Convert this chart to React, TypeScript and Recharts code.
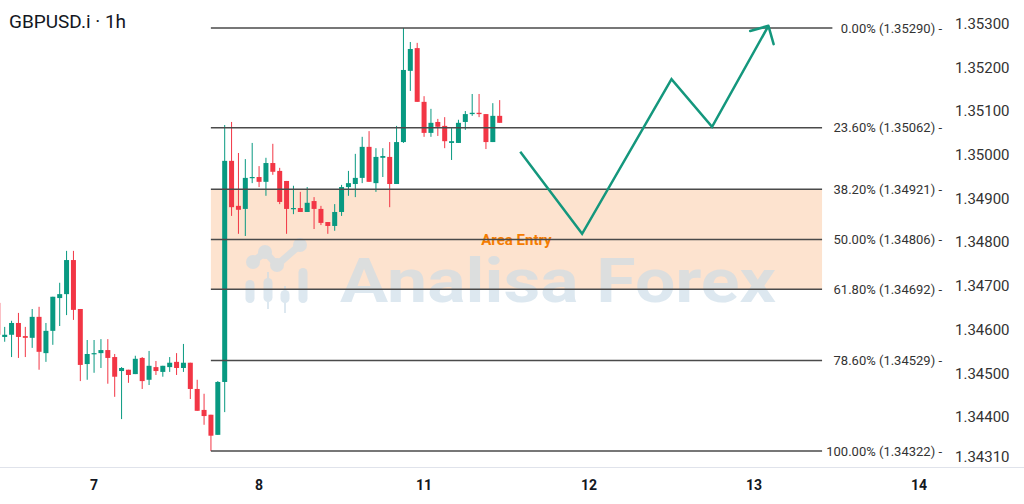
import React from 'react';
import { ComposedChart, Bar, Line, XAxis, YAxis, ReferenceLine, ReferenceArea, Customized } from 'recharts';

// ---------- data ----------
const HOURS = [-14,-13,-12,-11,-10,-9,-8,-7,-6,-5,-4,-3,-2,-1,0,1,2,3,4,5,6,7,8,9,10,11,12,13,14,15,16,17,18,19,20,21,22,23,24,25,26,27,28,29,30,31,32,33,34,35,36,37,38,39,40,41,42,43,44,45,46,47,48,49,50,51,52,53,54,55,56,57,58,59];
const OPEN = [1.34661,1.34583,1.34588,1.34615,1.34585,1.34581,1.34629,1.34546,1.34597,1.34672,1.34681,1.34759,1.34647,1.34521,1.34544,1.34546,1.34553,1.34537,1.34505,1.34508,1.34498,1.34535,1.34485,1.34514,1.34503,1.34514,1.34526,1.34512,1.34524,1.34464,1.34416,1.34405,1.34359,1.34480,1.34986,1.34883,1.34876,1.34947,1.34949,1.34938,1.34981,1.34963,1.34940,1.34876,1.34878,1.34869,1.34894,1.34876,1.34846,1.34837,1.34869,1.34926,1.34933,1.34947,1.35018,1.34935,1.34993,1.34995,1.34933,1.35029,1.35192,1.35244,1.35121,1.35050,1.35075,1.35066,1.35027,1.35027,1.35075,1.35093,1.35096,1.35093,1.35029,1.35089];
const HIGH = [1.34668,1.34606,1.34620,1.34638,1.34606,1.34647,1.34652,1.34615,1.34675,1.34707,1.34780,1.34780,1.34647,1.34576,1.34576,1.34578,1.34578,1.34544,1.34514,1.34508,1.34540,1.34537,1.34551,1.34528,1.34517,1.34537,1.34546,1.34567,1.34524,1.34485,1.34453,1.34405,1.34482,1.35068,1.35075,1.35004,1.34990,1.35027,1.34974,1.34993,1.35025,1.34970,1.34940,1.34929,1.34915,1.34926,1.34903,1.34883,1.34846,1.34887,1.34931,1.34963,1.35002,1.35041,1.35054,1.35015,1.35015,1.35029,1.35066,1.35290,1.35258,1.35256,1.35134,1.35105,1.35082,1.35086,1.35061,1.35080,1.35100,1.35139,1.35139,1.35093,1.35118,1.35125];
const LOW = [1.34576,1.34572,1.34537,1.34535,1.34537,1.34558,1.34508,1.34526,1.34565,1.34608,1.34633,1.34622,1.34482,1.34485,1.34501,1.34512,1.34476,1.34446,1.34395,1.34478,1.34498,1.34464,1.34473,1.34496,1.34492,1.34503,1.34496,1.34503,1.34441,1.34414,1.34382,1.34322,1.34359,1.34411,1.34860,1.34819,1.34814,1.34935,1.34926,1.34906,1.34954,1.34887,1.34819,1.34864,1.34869,1.34869,1.34830,1.34839,1.34819,1.34826,1.34860,1.34906,1.34903,1.34935,1.34938,1.34915,1.34949,1.34880,1.34933,1.35027,1.35146,1.35121,1.35041,1.35041,1.35043,1.35015,1.34988,1.35027,1.35057,1.35089,1.35086,1.35013,1.35029,1.35073];
const CLOSE = [1.34588,1.34588,1.34615,1.34583,1.34581,1.34629,1.34549,1.34597,1.34675,1.34681,1.34759,1.34645,1.34519,1.34544,1.34546,1.34553,1.34535,1.34492,1.34512,1.34496,1.34533,1.34482,1.34517,1.34505,1.34517,1.34524,1.34512,1.34524,1.34464,1.34414,1.34402,1.34357,1.34480,1.34986,1.34880,1.34874,1.34947,1.34949,1.34938,1.34981,1.34961,1.34892,1.34876,1.34878,1.34869,1.34890,1.34876,1.34844,1.34837,1.34869,1.34926,1.34935,1.34947,1.35018,1.34938,1.34995,1.34997,1.34933,1.35029,1.35194,1.35242,1.35121,1.35050,1.35073,1.35064,1.35031,1.35031,1.35073,1.35093,1.35096,1.35093,1.35029,1.35089,1.35073];

// projected path (hour, price)
const PROJ_H = [62, 71, 84, 89.9, 98.1];
const PROJ_P = [1.35007, 1.34819, 1.35173, 1.35064, 1.35295];

// fibonacci levels
const FIB_PCT = ['0.00%', '23.60%', '38.20%', '50.00%', '61.80%', '78.60%', '100.00%'];
const FIB_PRICE = [1.35290, 1.35062, 1.34921, 1.34806, 1.34692, 1.34529, 1.34322];
const FIB_START_H = 17;
const FIB_END_H = [107.4, 105.9, 105.9, 105.9, 105.9, 105.9, 105.9];
const ZONE = [1.34692, 1.34921];

// axes
const X_TICKS = [0, 24, 48, 72, 96, 120];
const X_LABELS = ['7', '8', '11', '12', '13', '14'];
const Y_TICKS = [1.3431, 1.344, 1.345, 1.346, 1.347, 1.348, 1.349, 1.35, 1.351, 1.352, 1.353];
const X_DOMAIN = [-13.673, 123.636];
const Y_DOMAIN = [1.342854, 1.353541];

const TITLE = 'GBPUSD.i · 1h';
const WATERMARK = 'Analisa Forex';
const ZONE_LABEL = 'Area Entry';

// ---------- layout ----------
const W = 1024;
const H = 504;
const Y_AXIS_W = 80;
const X_AXIS_H = 37;
const PLOT_RIGHT = W - Y_AXIS_W;
const PLOT_BOTTOM = H - X_AXIS_H;
const FONT = 'Roboto, "Noto Sans", sans-serif';
const UP = '#089981';
const DOWN = '#f23645';
const PATH_COLOR = '#14977d';
const FIB_COLOR = '#4a4a4a';
const WM = '#c9dbe8';

const rows = HOURS.map((h, i) => ({ h, open: OPEN[i], high: HIGH[i], low: LOW[i], close: CLOSE[i] }));
const projRows = PROJ_H.map((h, i) => ({ h, p: PROJ_P[i] }));

const Candle = (props: any) => {
  const { x, y, width, height, payload } = props;
  if (!payload || payload.high == null) return null;
  const top = Math.min(y, y + height);
  const hgt = Math.abs(height);
  const range = payload.high - payload.low || 1;
  const k = hgt / range;
  const yo = top + (payload.high - payload.open) * k;
  const yc = top + (payload.high - payload.close) * k;
  const up = payload.close >= payload.open;
  const color = up ? UP : DOWN;
  const cx = x + width / 2;
  const bTop = Math.min(yo, yc);
  const bH = Math.max(1.2, Math.abs(yo - yc));
  return (
    <g>
      <line x1={cx} x2={cx} y1={top} y2={top + hgt} stroke={color} strokeWidth={1} />
      <rect x={x} y={bTop} width={width} height={bH} fill={color} />
    </g>
  );
};

let prevPt: any = null;
const ArrowDot = (props: any) => {
  const { cx, cy, index, points } = props;
  let prev = points && points[index - 1] ? { x: points[index - 1].x, y: points[index - 1].y } : prevPt;
  prevPt = { x: cx, y: cy };
  if (index !== PROJ_H.length - 1 || !prev) return <g key={`ad${index}`} />;
  const ang = Math.atan2(cy - prev.y, cx - prev.x);
  const L = 19;
  const a = Math.PI / 4;
  const p1 = [cx - L * Math.cos(ang - a), cy - L * Math.sin(ang - a)];
  const p2 = [cx - L * Math.cos(ang + a), cy - L * Math.sin(ang + a)];
  return (
    <path
      key={`ad${index}`}
      d={`M${p1[0]},${p1[1]} L${cx},${cy} L${p2[0]},${p2[1]}`}
      fill="none"
      stroke={PATH_COLOR}
      strokeWidth={2.5}
      strokeLinecap="round"
      strokeLinejoin="round"
    />
  );
};

const fibLabel = (text: string) => (props: any) => {
  const vb = props.viewBox || {};
  return (
    <text x={PLOT_RIGHT - 2} y={vb.y} dy="0.35em" textAnchor="end" fontSize={13} fill="#333" fontFamily={FONT}>
      {text}
    </text>
  );
};

const Watermark = () => (
  <g opacity={0.62} fill={WM} pointerEvents="none">
    <g>
      <rect x={245.5} y={280} width={9} height={23} rx={4.5} />
      <line x1={268} x2={268} y1={272} y2={309} stroke={WM} strokeWidth={2} />
      <rect x={263.5} y={278} width={9} height={24} rx={4.5} />
      <line x1={285} x2={285} y1={286} y2={313} stroke={WM} strokeWidth={2} />
      <rect x={280.5} y={290} width={9} height={13} rx={4.5} />
      <rect x={298.5} y={268} width={9} height={35} rx={4.5} />
      <polyline points="253,262 265,252 277,265 300,245" fill="none" stroke={WM} strokeWidth={7} strokeLinejoin="round" />
      <circle cx={253} cy={262} r={7} />
      <circle cx={265} cy={252} r={7} />
      <circle cx={277} cy={265} r={7} />
      <circle cx={300} cy={245} r={7} />
    </g>
    <text
      x={340}
      y={302}
      fontSize={62}
      fontWeight={700}
      fontFamily={FONT}
      textLength={436}
      lengthAdjust="spacingAndGlyphs"
    >
      {WATERMARK}
    </text>
  </g>
);

// zone label: watermark (drawn above the shaded zone) plus the "Area Entry" caption
const zoneLabel = (props: any) => {
  const vb = props.viewBox || {};
  return (
    <g>
      <Watermark />
      <text
        x={vb.x + vb.width / 2}
        y={vb.y + vb.height / 2}
        dy="0.35em"
        textAnchor="middle"
        fontSize={15}
        fontWeight={700}
        fill="#f57c00"
        fontFamily={FONT}
      >
        {ZONE_LABEL}
      </text>
    </g>
  );
};

const Overlay = () => (
  <g>
    <line x1={0} x2={W} y1={PLOT_BOTTOM + 0.5} y2={PLOT_BOTTOM + 0.5} stroke="#e0e3eb" strokeWidth={1} />
    <text x={9} y={28} fontSize={19} fill="#131722" fontFamily={FONT}>
      {TITLE}
    </text>
  </g>
);

export default function App() {
  return (
    <div style={{ position: 'absolute', left: 0, top: 0, width: W, height: H, background: '#fff', overflow: 'hidden' }}>
      <ComposedChart width={W} height={H} data={rows} margin={{ top: 0, right: 0, bottom: 0, left: 0 }}>
        <XAxis
          dataKey="h"
          type="number"
          domain={X_DOMAIN}
          allowDataOverflow
          ticks={X_TICKS}
          interval={0}
          tickFormatter={(v: number) => X_LABELS[X_TICKS.indexOf(v)] ?? ''}
          axisLine={false}
          tickLine={false}
          height={X_AXIS_H}
          tickMargin={7}
          tick={{ fill: '#131722', fontSize: 14, fontWeight: 700, fontFamily: FONT }}
        />
        <YAxis
          orientation="right"
          type="number"
          domain={Y_DOMAIN}
          allowDataOverflow
          ticks={Y_TICKS}
          interval={0}
          tickFormatter={(v: number) => v.toFixed(5)}
          axisLine={false}
          tickLine={false}
          width={Y_AXIS_W}
          tickMargin={5}
          tick={{ fill: '#333', fontSize: 15, fontFamily: FONT }}
        />
        <ReferenceArea
          x1={FIB_START_H}
          x2={FIB_END_H[1]}
          y1={ZONE[0]}
          y2={ZONE[1]}
          fill="#fde3cf"
          fillOpacity={1}
          stroke="none"
          ifOverflow="visible"
          label={zoneLabel}
        />
        {FIB_PRICE.map((p, i) => (
          <ReferenceLine
            key={FIB_PCT[i]}
            segment={[{ x: FIB_START_H, y: p }, { x: FIB_END_H[i], y: p }]}
            stroke={FIB_COLOR}
            strokeWidth={1.5}
            ifOverflow="visible"
            label={fibLabel(`${FIB_PCT[i]} (${p.toFixed(5)}) -`)}
          />
        ))}
        <Bar dataKey={(d: any) => [d.low, d.high]} barSize={5} shape={<Candle />} isAnimationActive={false} />
        <Line
          data={projRows}
          dataKey="p"
          type="linear"
          stroke={PATH_COLOR}
          strokeWidth={2.5}
          dot={ArrowDot}
          activeDot={false}
          isAnimationActive={false}
        />
        <Customized component={<Overlay />} />
      </ComposedChart>
    </div>
  );
}
